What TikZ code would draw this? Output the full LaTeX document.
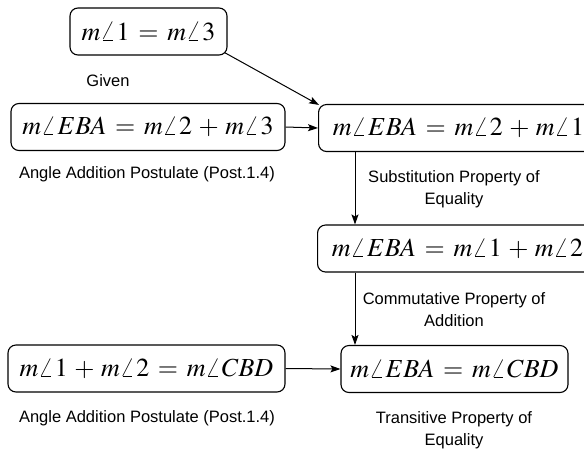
\documentclass[tikz,border=0pt]{standalone}
\usepackage{mathptmx}
\usepackage[no-math]{fontspec}
\setsansfont{Liberation Sans}
\usetikzlibrary{arrows.meta,calc}
\newcommand\Eq{\mathrel{\,=\,}}
\newcommand\Pl{\mathbin{\,+\,}}
\newcommand\ang{\angle\mkern1mu}
\begin{document}
\begin{tikzpicture}[x=1pt,y=-1pt,
  stmt/.style={draw,line width=1.1pt,rounded corners=8pt,inner sep=0pt,
    minimum height=47pt,font=\fontsize{26}{30}\selectfont},
  reason/.style={align=center,font=\sffamily\fontsize{16.5}{22}\selectfont},
  arr/.style={line width=1pt,-{Stealth[length=10pt,width=7pt,inset=2pt]}}]
\useasboundingbox (0,0) rectangle (584,448);
\node[stmt,minimum width=157pt] (A) at (148.5,31.5) {$m\ang 1 \Eq m\ang 3$};
\node[reason] (rA) at (108,81) {Given};
\node[stmt,minimum width=274pt] (B) at (148,127) {$m\ang EBA \Eq m\ang 2 \Pl m\ang 3$};
\node[reason] (rB) at (147,174) {Angle Addition Postulate (Post.1.4)};
\node[stmt,minimum width=280pt,anchor=west] (C) at (318,128) {$m\ang EBA \Eq m\ang 2 \Pl m\ang 1$};
\node[reason] (rC) at (454,189) {Substitution Property of\\Equality};
\node[stmt,minimum width=280pt,anchor=west] (D) at (317,248.5) {$m\ang EBA \Eq m\ang 1 \Pl m\ang 2$};
\node[reason] (rD) at (454,310) {Commutative Property of\\Addition};
\node[stmt,minimum width=227pt] (E) at (454.5,369) {$m\ang EBA \Eq m\ang CBD$};
\node[reason] (rE) at (454,430) {Transitive Property of\\Equality};
\node[stmt,minimum width=277pt] (F) at (146.5,368.5) {$m\ang 1 \Pl m\ang 2 \Eq m\ang CBD$};
\node[reason] (rF) at (147,418) {Angle Addition Postulate (Post.1.4)};
\draw[arr] ([shift={(-3pt,3pt)}]A.south east) -- ([shift={(1pt,-1pt)}]C.north west);
\draw[arr] (B.east) -- (C.west);
\draw[arr] ([xshift=37pt]C.south west) -- ([xshift=37pt]C.south west |- D.north);
\draw[arr] ([xshift=38pt]D.south west) -- ([xshift=38pt]D.south west |- E.north);
\draw[arr] (F.east) -- (E.west);
\end{tikzpicture}
\end{document}
